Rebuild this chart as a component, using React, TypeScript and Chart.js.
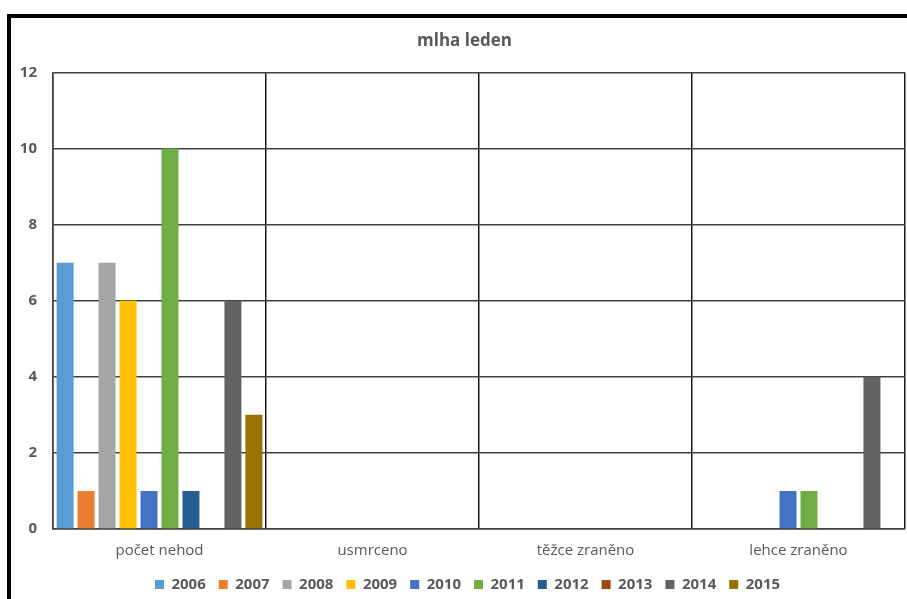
import React, { useEffect, useRef } from "react";
import { Chart, registerables } from "chart.js";

Chart.register(...registerables);

const categories = ["počet nehod", "usmrceno", "těžce zraněno", "lehce zraněno"];
const years = ["2006", "2007", "2008", "2009", "2010", "2011", "2012", "2013", "2014", "2015"];
const values2006 = [7, 0, 0, 0];
const values2007 = [1, 0, 0, 0];
const values2008 = [7, 0, 0, 0];
const values2009 = [6, 0, 0, 0];
const values2010 = [1, 0, 0, 1];
const values2011 = [10, 0, 0, 1];
const values2012 = [1, 0, 0, 0];
const values2013 = [0, 0, 0, 0];
const values2014 = [6, 0, 0, 4];
const values2015 = [3, 0, 0, 0];
const seriesValues = [
  values2006, values2007, values2008, values2009, values2010,
  values2011, values2012, values2013, values2014, values2015,
];
const colors = [
  "#5B9BD5", "#ED7D31", "#A5A5A5", "#FFC000", "#4472C4",
  "#70AD47", "#255E91", "#9E480E", "#636363", "#997300",
];
const chartTitle = "mlha leden";

const FONT = "'Open Sans', Lato, sans-serif";
const TEXT = "#595959";

// Thick black frame along the top and left edges of the sheet; the title
// and legend are centred on the full sheet, which runs past the right edge.
const framePlugin = {
  id: "frame",
  afterLayout(chart: any) {
    if (chart.titleBlock) {
      chart.titleBlock.left += 12;
      chart.titleBlock.right += 12;
    }
    if (chart.legend) {
      chart.legend.left += 15;
      chart.legend.right += 15;
    }
  },
  beforeDraw(chart: any) {
    const { ctx, width, height } = chart;
    ctx.save();
    ctx.fillStyle = "#ffffff";
    ctx.fillRect(0, 0, width, height);
    ctx.fillStyle = "#000000";
    ctx.fillRect(7, 14, width - 7, 4);
    ctx.fillRect(7, 14, 4, height - 14);
    ctx.restore();
  },
};

export default function App() {
  const canvasRef = useRef<HTMLCanvasElement | null>(null);

  useEffect(() => {
    if (!canvasRef.current) return;
    const chart = new Chart(canvasRef.current, {
      type: "bar",
      data: {
        labels: categories,
        datasets: years.map((y, i) => ({
          label: y,
          data: seriesValues[i],
          backgroundColor: colors[i],
          borderWidth: 0,
          categoryPercentage: 0.985,
          barPercentage: 0.81,
        })),
      },
      options: {
        animation: false,
        responsive: false,
        maintainAspectRatio: false,
        layout: { padding: { left: 0, right: 2, top: 0, bottom: -3 } },
        plugins: {
          title: {
            display: true,
            text: chartTitle,
            color: TEXT,
            font: { family: FONT, size: 17, weight: "bold" },
            padding: { top: 31, bottom: 21 },
          },
          legend: {
            position: "bottom",
            labels: {
              color: TEXT,
              font: { family: FONT, size: 15, weight: "bold" },
              boxWidth: 9,
              boxHeight: 9,
              padding: 13,
            },
          },
          tooltip: { enabled: false },
        },
        scales: {
          x: {
            grid: {
              display: true,
              offset: true,
              color: "#1a1a1a",
              lineWidth: 1.5,
              drawTicks: false,
            },
            border: { display: true, color: "#404040", width: 1.5 },
            ticks: {
              color: TEXT,
              font: { family: FONT, size: 15 },
              padding: 13,
            },
            afterFit(scale: any) {
              scale.height = 35;
            },
          },
          y: {
            min: 0,
            max: 12,
            grid: { color: "#404040", lineWidth: 1.5, drawTicks: false },
            border: { display: true, color: "#404040", width: 1.5 },
            ticks: {
              stepSize: 2,
              color: TEXT,
              font: { family: FONT, size: 15, weight: "bold" },
              padding: 16,
            },
            afterFit(scale: any) {
              scale.width = 53;
            },
          },
        },
      },
      plugins: [framePlugin],
    });
    return () => chart.destroy();
  }, []);

  return (
    <canvas
      ref={canvasRef}
      width={907}
      height={599}
      style={{ position: "fixed", left: 0, top: 0, width: 907, height: 599, display: "block" }}
    />
  );
}
